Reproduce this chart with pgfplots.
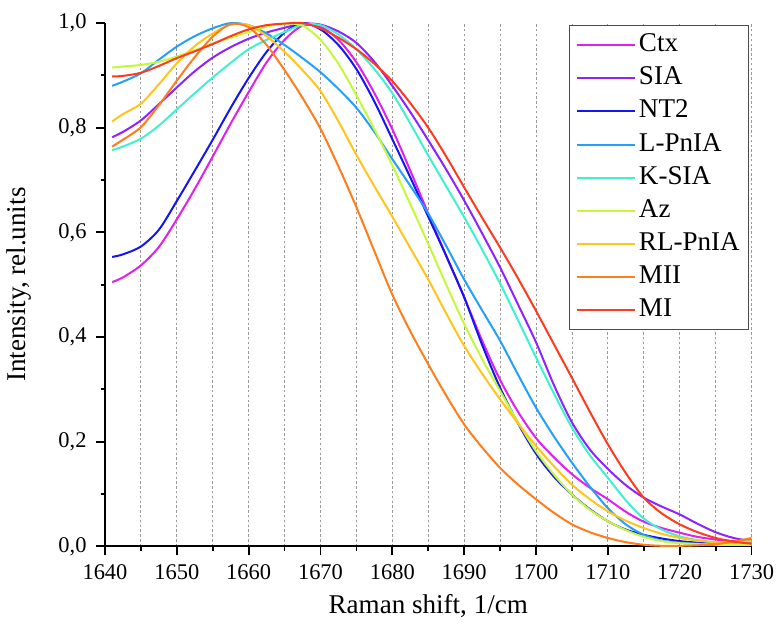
\documentclass[border=0pt]{standalone}
\usepackage{fontspec}
\setmainfont{Liberation Serif}
\usepackage{pgfplots}
\pgfplotsset{compat=1.18}
\definecolor{cCtx}{HTML}{E020F0}
\definecolor{cSIA}{HTML}{8F22FF}
\definecolor{cNT}{HTML}{1414F5}
\definecolor{cLP}{HTML}{24A0FA}
\definecolor{cKS}{HTML}{40F0D0}
\definecolor{cAz}{HTML}{C6F83A}
\definecolor{cRL}{HTML}{FFC51A}
\definecolor{cMII}{HTML}{FF7D1A}
\definecolor{cMI}{HTML}{FF3B1F}
\begin{document}
\begin{tikzpicture}
\begin{axis}[
  scale only axis, width=322.5pt, height=261pt,
  xmin=1640, xmax=1730, ymin=0, ymax=1,
  axis x line*=bottom, axis y line*=left,
  axis line style={line width=1.1pt, -},
  xtick={1640,1650,1660,1670,1680,1690,1700,1710,1720,1730},
  xticklabels={1640,1650,1660,1670,1680,1690,1700,1710,1720,1730},
  ytick={0,0.2,0.4,0.6,0.8,1},
  yticklabels={{0,0},{0,2},{0,4},{0,6},{0,8},{1,0}},
  minor x tick num=1, minor y tick num=1,
  tick align=outside, major tick length=4.5pt, minor tick length=2.2pt,
  every tick/.style={black, line width=0.9pt},
  xmajorgrids, xminorgrids,
  grid style={black!40, line width=0.4pt, dash pattern=on 1.2pt off 1.2pt},
  ticklabel style={font=\fontsize{11.2}{13}\selectfont, inner sep=1pt},
  xticklabel style={yshift=-3.5pt},
  yticklabel style={xshift=-3.5pt},
  xlabel={Raman shift, 1/cm}, ylabel={Intensity, rel.units},
  every axis x label/.style={at={(axis description cs:0.5,-0.115)}, anchor=center,
    font=\fontsize{13.5}{16}\selectfont},
  every axis y label/.style={at={(axis description cs:-0.133,0.5)}, anchor=center, rotate=90,
    font=\fontsize{13.5}{16}\selectfont},
  legend style={at={(0.718,0.996)}, anchor=north west, draw=black!70, line width=0.6pt,
    fill=white, font=\fontsize{13.5}{16}\selectfont, row sep=1pt,
    nodes={inner sep=1.5pt, text height=9.5pt, text depth=3pt}},
  legend cell align=left,
  legend image code/.code={\draw[#1, line width=1pt] (0pt,0pt) -- (29pt,0pt);},
  every axis plot/.append style={line width=1pt, smooth},
  clip=false,
]
\addplot[cCtx] table {
1641 0.505
1642.5 0.514
1645 0.537
1647.5 0.572
1650 0.625
1652.5 0.683
1655 0.745
1657.5 0.808
1660 0.868
1662.5 0.925
1665 0.968
1667.5 0.995
1670 0.993
1672.5 0.968
1675 0.925
1677.5 0.866
1680 0.797
1682.5 0.718
1685 0.636
1687.5 0.555
1690 0.476
1692.5 0.393
1695 0.318
1697.5 0.257
1700 0.207
1702.5 0.170
1705 0.138
1707.5 0.112
1710 0.090
1712.5 0.066
1715 0.047
1717.5 0.035
1720 0.026
1722.5 0.018
1725 0.013
1727.5 0.010
1730 0.008
};
\addlegendentry{Ctx}
\addplot[cSIA] table {
1641 0.782
1642.5 0.792
1645 0.814
1647.5 0.845
1650 0.877
1652.5 0.908
1655 0.934
1657.5 0.954
1660 0.970
1662.5 0.982
1665 0.991
1667.5 0.999
1670 0.997
1672.5 0.984
1675 0.962
1677.5 0.926
1680 0.880
1682.5 0.830
1685 0.776
1687.5 0.720
1690 0.661
1692.5 0.598
1695 0.533
1697.5 0.462
1700 0.390
1702.5 0.308
1705 0.237
1707.5 0.185
1710 0.148
1712.5 0.117
1715 0.093
1717.5 0.076
1720 0.061
1722.5 0.043
1725 0.027
1727.5 0.016
1730 0.010
};
\addlegendentry{SIA}
\addplot[cNT] table {
1641 0.553
1642.5 0.558
1645 0.573
1647.5 0.605
1650 0.660
1652.5 0.718
1655 0.777
1657.5 0.838
1660 0.895
1662.5 0.945
1665 0.982
1667.5 1.000
1670 0.988
1672.5 0.958
1675 0.912
1677.5 0.850
1680 0.778
1682.5 0.705
1685 0.630
1687.5 0.555
1690 0.476
1692.5 0.385
1695 0.303
1697.5 0.235
1700 0.177
1702.5 0.133
1705 0.099
1707.5 0.071
1710 0.048
1712.5 0.032
1715 0.022
1717.5 0.015
1720 0.010
1722.5 0.007
1725 0.005
1730 0.004
};
\addlegendentry{NT2}
\addplot[cLP] table {
1641 0.880
1642.5 0.888
1645 0.904
1647.5 0.930
1650 0.955
1652.5 0.975
1655 0.990
1657.5 1.000
1660 0.996
1662.5 0.980
1665 0.958
1667.5 0.933
1670 0.906
1672.5 0.874
1675 0.838
1677.5 0.792
1680 0.740
1682.5 0.689
1685 0.636
1687.5 0.574
1690 0.510
1692.5 0.451
1695 0.393
1697.5 0.328
1700 0.265
1702.5 0.210
1705 0.160
1707.5 0.114
1710 0.073
1712.5 0.042
1715 0.022
1717.5 0.011
1720 0.007
1722.5 0.005
1725 0.005
1727.5 0.008
1730 0.013
};
\addlegendentry{L-PnIA}
\addplot[cKS] table {
1641 0.757
1642.5 0.764
1645 0.779
1647.5 0.804
1650 0.835
1652.5 0.866
1655 0.896
1657.5 0.924
1660 0.950
1662.5 0.968
1665 0.983
1667.5 0.997
1670 0.996
1672.5 0.978
1675 0.950
1677.5 0.912
1680 0.866
1682.5 0.808
1685 0.747
1687.5 0.688
1690 0.629
1692.5 0.567
1695 0.502
1697.5 0.432
1700 0.361
1702.5 0.292
1705 0.227
1707.5 0.174
1710 0.131
1712.5 0.088
1715 0.053
1717.5 0.032
1720 0.019
1722.5 0.012
1725 0.008
1730 0.005
};
\addlegendentry{K-SIA}
\addplot[cAz] table {
1641 0.915
1642.5 0.917
1645 0.920
1647.5 0.926
1650 0.936
1652.5 0.948
1655 0.961
1657.5 0.972
1660 0.983
1662.5 0.993
1665 0.999
1667.5 0.995
1670 0.968
1672.5 0.922
1675 0.862
1677.5 0.797
1680 0.728
1682.5 0.654
1685 0.578
1687.5 0.500
1690 0.425
1692.5 0.358
1695 0.297
1697.5 0.237
1700 0.182
1702.5 0.137
1705 0.099
1707.5 0.070
1710 0.048
1712.5 0.031
1715 0.018
1717.5 0.010
1720 0.006
1725 0.003
1730 0.003
};
\addlegendentry{Az}
\addplot[cRL] table {
1641 0.812
1642.5 0.826
1645 0.846
1647.5 0.883
1650 0.923
1652.5 0.956
1655 0.980
1657.5 0.997
1660 0.996
1662.5 0.975
1665 0.945
1667.5 0.910
1670 0.870
1672.5 0.812
1675 0.748
1677.5 0.688
1680 0.630
1682.5 0.570
1685 0.510
1687.5 0.445
1690 0.383
1692.5 0.330
1695 0.281
1697.5 0.235
1700 0.192
1702.5 0.153
1705 0.118
1707.5 0.090
1710 0.067
1712.5 0.049
1715 0.035
1717.5 0.024
1720 0.016
1722.5 0.011
1725 0.008
1727.5 0.008
1730 0.010
};
\addlegendentry{RL-PnIA}
\addplot[cMII] table {
1641 0.764
1642.5 0.777
1645 0.801
1647.5 0.843
1650 0.890
1652.5 0.935
1655 0.974
1657.5 0.998
1660 0.992
1662.5 0.958
1665 0.910
1667.5 0.857
1670 0.798
1672.5 0.726
1675 0.648
1677.5 0.564
1680 0.481
1682.5 0.411
1685 0.348
1687.5 0.288
1690 0.233
1692.5 0.189
1695 0.150
1697.5 0.118
1700 0.090
1702.5 0.064
1705 0.042
1707.5 0.027
1710 0.016
1712.5 0.008
1715 0.003
1717.5 0.001
1720 0.001
1722.5 0.002
1725 0.004
1727.5 0.009
1730 0.016
};
\addlegendentry{MII}
\addplot[cMI] table {
1641 0.898
1642.5 0.899
1645 0.905
1647.5 0.918
1650 0.933
1652.5 0.946
1655 0.960
1657.5 0.975
1660 0.988
1662.5 0.996
1665 0.999
1667.5 1.000
1670 0.990
1672.5 0.972
1675 0.950
1677.5 0.922
1680 0.889
1682.5 0.847
1685 0.800
1687.5 0.745
1690 0.686
1692.5 0.628
1695 0.571
1697.5 0.512
1700 0.450
1702.5 0.386
1705 0.322
1707.5 0.257
1710 0.195
1712.5 0.140
1715 0.093
1717.5 0.063
1720 0.042
1722.5 0.027
1725 0.016
1727.5 0.009
1730 0.005
};
\addlegendentry{MI}
\path (rel axis cs:0,1) -- ++(0pt,11.5pt);
\end{axis}
\end{tikzpicture}
\end{document}
